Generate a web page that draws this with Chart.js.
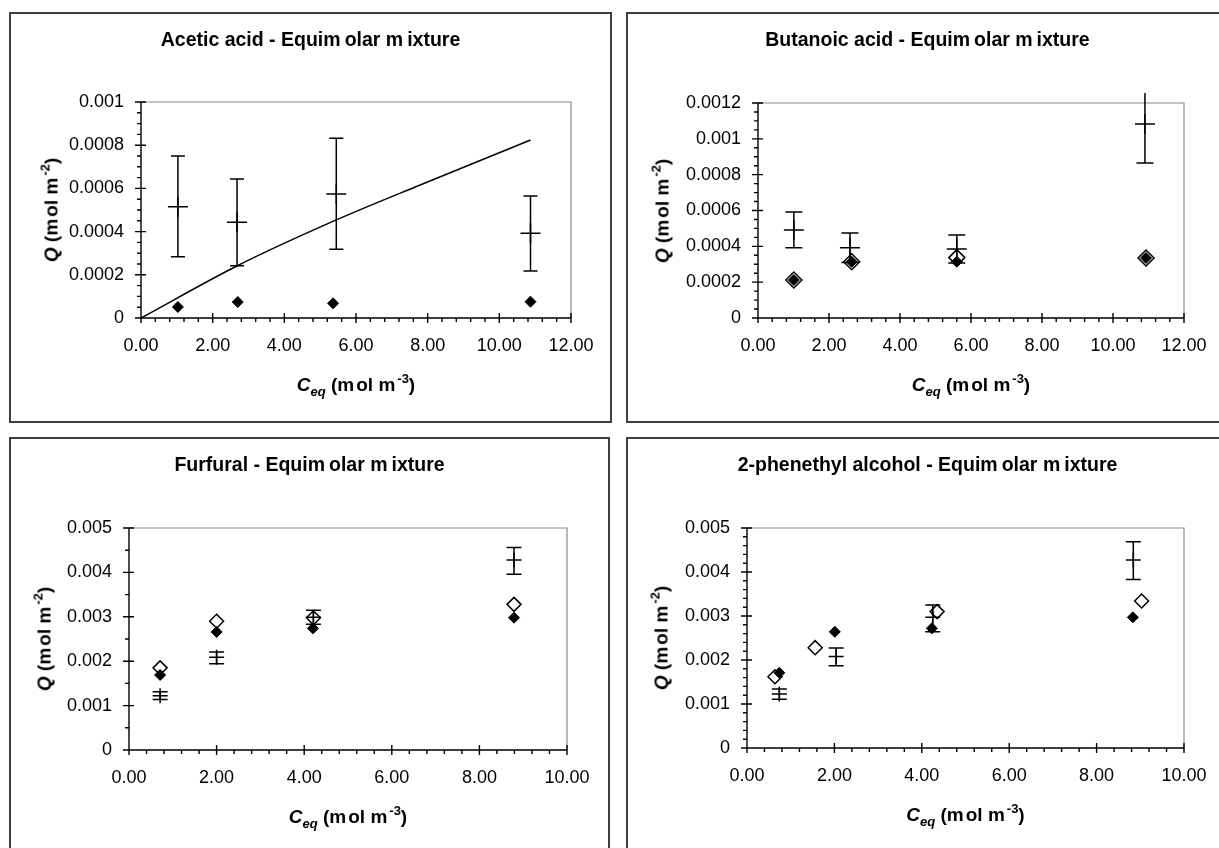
<!DOCTYPE html>
<html>
<head>
<meta charset="utf-8">
<script src="https://cdn.jsdelivr.net/npm/chart.js@4.4.1/dist/chart.umd.min.js"></script>
<style>
  html, body { margin: 0; padding: 0; background: #fff; }
  body { width: 1219px; height: 848px; overflow: hidden; position: relative;
         font-family: Arial, "Liberation Sans", sans-serif; color: #000; }
  .box { position: absolute; border: 2px solid #404040; box-sizing: border-box; }
  canvas { position: absolute; }
  .ttl { position: absolute; font-weight: bold; font-size: 19.5px; line-height: 1;
         white-space: nowrap; transform: translate(-50%, -50%); }
  .ttl .mg { margin-right: 4px; }
  .axt { position: absolute; font-weight: bold; font-size: 19px; line-height: 1; white-space: nowrap; }
  .axt .mg { margin-right: 2px; }
  .axt sup, .axt sub { font-size: 13px; position: relative; vertical-align: baseline; }
  .axt sup { top: -0.6em; }
  .axt sub { top: 0.4em; }
</style>
</head>
<body>
<script>
// --- Acetic acid ---
const aceticTitle = "Acetic acid - Equimolar mixture";
const aceticFilledX = [1.03, 2.70, 5.36, 10.87];
const aceticFilledQ = [0.000051, 0.000074, 0.000068, 0.0000755];
const aceticMeanX = [1.03, 2.68, 5.45, 10.87];
const aceticMeanQ = [0.000515, 0.000443, 0.000574, 0.000392];
const aceticLowQ = [0.000284, 0.000242, 0.000318, 0.000218];
const aceticHighQ = [0.00075, 0.000643, 0.000832, 0.000565];
const aceticFitX = [0, 2.69, 5.45, 7.79, 10.87];
const aceticFitQ = [0, 0.000242, 0.000454, 0.000616, 0.000824];

// --- Butanoic acid ---
const butanoicTitle = "Butanoic acid - Equimolar mixture";
const butanoicFilledX = [1.01, 2.64, 5.60, 10.93];
const butanoicFilledQ = [0.000212, 0.000314, 0.000314, 0.000335];
const butanoicOpenX = [1.01, 2.64, 5.60, 10.93];
const butanoicOpenQ = [0.000212, 0.000314, 0.000337, 0.000335];
const butanoicMeanX = [1.01, 2.59, 5.60, 10.90];
const butanoicMeanQ = [0.000491, 0.000392, 0.000385, 0.001083];
const butanoicLowQ = [0.000392, 0.00031, 0.000307, 0.000865];
const butanoicHighQ = [0.000592, 0.000474, 0.000463, 0.0013];

// --- Furfural ---
const furfuralTitle = "Furfural - Equimolar mixture";
const furfuralFilledX = [0.71, 2.00, 4.20, 8.79];
const furfuralFilledQ = [0.00169, 0.00266, 0.00274, 0.00298];
const furfuralOpenX = [0.71, 2.00, 4.21, 8.79];
const furfuralOpenQ = [0.00185, 0.0029, 0.00298, 0.00328];
const furfuralMeanX = [0.71, 2.00, 4.21, 8.79];
const furfuralMeanQ = [0.00122, 0.00209, 0.00299, 0.00428];
const furfuralLowQ = [0.00114, 0.00194, 0.00283, 0.00396];
const furfuralHighQ = [0.00131, 0.00221, 0.00315, 0.00456];

// --- 2-phenethyl alcohol ---
const phenethylTitle = "2-phenethyl alcohol - Equimolar mixture";
const phenethylFilledX = [0.74, 2.01, 4.23, 8.83];
const phenethylFilledQ = [0.00171, 0.00264, 0.00272, 0.00297];
const phenethylOpenX = [0.64, 1.56, 4.35, 9.03];
const phenethylOpenQ = [0.00162, 0.00228, 0.0031, 0.00334];
const phenethylMeanX = [0.74, 2.04, 4.25, 8.84];
const phenethylMeanQ = [0.00123, 0.00208, 0.00297, 0.00427];
const phenethylLowQ = [0.00111, 0.00187, 0.00264, 0.00383];
const phenethylHighQ = [0.00134, 0.00227, 0.00325, 0.00469];

// axis ranges: [min, max, major step, minor step]
const xAxis12 = [0, 12, 2, 0.4];
const xAxis10 = [0, 10, 2, 0.4];
const yAxisAcetic = [0, 0.001, 0.0002, 0.00005];
const yAxisButanoic = [0, 0.0012, 0.0002, 0.00005];
const yAxisFurfural = [0, 0.005, 0.001, 0.0005];
const yAxisPhenethyl = [0, 0.005, 0.001, 0.0002];

const yTitleHtml = '<i>Q</i> (mol m<sup>-2</sup>)';
const xTitleHtml = '<i>C</i><sub><i>eq</i></sub> (mol m<sup>-3</sup>)';

const FONT = 'Arial, "Liberation Sans", sans-serif';
const pts = (xs, ys) => xs.map((x, i) => ({ x, y: ys[i] }));

// Excel-style frame, crossing major ticks and outside minor ticks, error bars
const excelAxes = {
  id: "excelAxes",
  beforeDatasetsDraw(chart, args, o) {
    const { ctx, chartArea: a, scales: { x, y } } = chart;
    ctx.save();
    ctx.strokeStyle = "#8c8c8c";
    ctx.lineWidth = 1.2;
    ctx.beginPath();
    ctx.moveTo(a.left, a.top);
    ctx.lineTo(a.right, a.top);
    ctx.lineTo(a.right, a.bottom);
    ctx.stroke();

    ctx.strokeStyle = "#000";
    ctx.lineWidth = 1.4;
    ctx.beginPath();
    ctx.moveTo(a.left, a.top);
    ctx.lineTo(a.left, a.bottom);
    ctx.lineTo(a.right, a.bottom);
    const nx = Math.round((x.max - x.min) / o.x[3]);
    const kx = Math.round(o.x[2] / o.x[3]);
    for (let i = 0; i <= nx; i++) {
      const px = x.getPixelForValue(x.min + i * o.x[3]);
      const major = i % kx === 0;
      ctx.moveTo(px, a.bottom - (major ? 5 : 0));
      ctx.lineTo(px, a.bottom + (major ? 5 : 4));
    }
    const ny = Math.round((y.max - y.min) / o.y[3]);
    const ky = Math.round(o.y[2] / o.y[3]);
    for (let i = 0; i <= ny; i++) {
      const py = y.getPixelForValue(y.min + i * o.y[3]);
      const major = i % ky === 0;
      ctx.moveTo(a.left - (major ? 6 : 4), py);
      ctx.lineTo(a.left + (major ? 5 : 0), py);
    }
    ctx.stroke();
    ctx.restore();
  },
  afterDatasetDraw(chart, args) {
    const ds = chart.data.datasets[args.index];
    if (!ds.errLow) return;
    const { ctx, chartArea: a, scales: { x, y } } = chart;
    ctx.save();
    ctx.beginPath();
    ctx.rect(a.left - 20, a.top - 10, a.right - a.left + 40, a.bottom - a.top + 20);
    ctx.clip();
    ctx.strokeStyle = "#000";
    ctx.lineWidth = 1.5;
    ctx.beginPath();
    ds.data.forEach((p, i) => {
      const px = x.getPixelForValue(p.x);
      const lo = y.getPixelForValue(ds.errLow[i]);
      const hi = y.getPixelForValue(ds.errHigh[i]);
      const w = ds.capHalf;
      ctx.moveTo(px, lo); ctx.lineTo(px, hi);
      ctx.moveTo(px - w, lo); ctx.lineTo(px + w, lo);
      ctx.moveTo(px - w, hi); ctx.lineTo(px + w, hi);
    });
    ctx.stroke();
    ctx.restore();
  }
};

function filled(xs, ys) {
  return { data: pts(xs, ys), pointStyle: "rectRot", pointRadius: 5.5, backgroundColor: "#000",
           borderColor: "#000", borderWidth: 1, order: 0 };
}
function open(xs, ys, r) {
  return { data: pts(xs, ys), pointStyle: "rectRot", pointRadius: r, backgroundColor: "#fff",
           borderColor: "#000", borderWidth: 1.5, order: 2 };
}
function means(xs, ys, lo, hi, r, cap) {
  return { data: pts(xs, ys), pointStyle: "cross", pointRadius: r, borderColor: "#000",
           borderWidth: 1.5, errLow: lo, errHigh: hi, capHalf: cap, order: 1 };
}

const panels = [
  { title: aceticTitle, box: [9, 12, 603, 411], plot: [141, 102, 571, 318], titleAt: [310.5, 39.5],
    yTitleX: 51, x: xAxis12, y: yAxisAcetic,
    datasets: [
      filled(aceticFilledX, aceticFilledQ),
      means(aceticMeanX, aceticMeanQ, aceticLowQ, aceticHighQ, 10, 7),
      { data: pts(aceticFitX, aceticFitQ), showLine: true, pointRadius: 0, borderColor: "#000",
        borderWidth: 1.5, cubicInterpolationMode: "monotone", order: 3 }
    ] },
  { title: butanoicTitle, box: [626, 12, 603, 411], plot: [758, 103, 1184, 318], titleAt: [927.5, 39.5],
    yTitleX: 662, x: xAxis12, y: yAxisButanoic,
    datasets: [
      filled(butanoicFilledX, butanoicFilledQ),
      means(butanoicMeanX, butanoicMeanQ, butanoicLowQ, butanoicHighQ, 10, 8.5),
      open(butanoicOpenX, butanoicOpenQ, 8)
    ] },
  { title: furfuralTitle, box: [9, 437, 601, 420], plot: [129, 528, 567, 750], titleAt: [309.5, 465],
    yTitleX: 43.5, x: xAxis10, y: yAxisFurfural,
    datasets: [
      filled(furfuralFilledX, furfuralFilledQ),
      means(furfuralMeanX, furfuralMeanQ, furfuralLowQ, furfuralHighQ, 7.5, 7.5),
      open(furfuralOpenX, furfuralOpenQ, 7)
    ] },
  { title: phenethylTitle, box: [626, 437, 603, 420], plot: [747, 528, 1184, 748], titleAt: [927.5, 465],
    yTitleX: 661, x: xAxis10, y: yAxisPhenethyl,
    datasets: [
      filled(phenethylFilledX, phenethylFilledQ),
      means(phenethylMeanX, phenethylMeanQ, phenethylLowQ, phenethylHighQ, 7.5, 7.5),
      open(phenethylOpenX, phenethylOpenQ, 7)
    ] }
];

// the original renders a small gap after each "m"
const spaced = html => html.replace(/m/g, '<span class="mg">m</span>');

function addText(cls, html, left, top, extra) {
  const d = document.createElement("div");
  d.className = cls;
  d.innerHTML = spaced(html);
  d.style.left = left + "px";
  d.style.top = top + "px";
  if (extra) d.style.transform = extra;
  document.body.appendChild(d);
}

panels.forEach(p => {
  const [bx, by, bw, bh] = p.box;
  const [L, T, R, B] = p.plot;

  const box = document.createElement("div");
  box.className = "box";
  Object.assign(box.style, { left: bx + "px", top: by + "px", width: bw + "px", height: bh + "px" });
  document.body.appendChild(box);

  const cv = document.createElement("canvas");
  cv.width = bw;
  cv.height = bh;
  cv.style.left = bx + "px";
  cv.style.top = by + "px";
  document.body.appendChild(cv);

  addText("ttl", p.title, p.titleAt[0], p.titleAt[1]);
  addText("axt", xTitleHtml, (L + R) / 2, B + 65.5, "translate(-50%, -50%)");
  addText("axt", yTitleHtml, p.yTitleX, (T + B) / 2, "translate(-50%, -50%) rotate(-90deg)");

  new Chart(cv, {
    type: "scatter",
    data: { datasets: p.datasets },
    options: {
      responsive: false,
      animation: false,
      events: [],
      layout: { padding: { left: 0, top: T - by, right: bx + bw - R, bottom: 0 } },
      plugins: {
        legend: { display: false },
        tooltip: { enabled: false },
        excelAxes: { x: p.x, y: p.y }
      },
      scales: {
        x: {
          type: "linear", min: p.x[0], max: p.x[1],
          afterFit: s => { s.height = by + bh - B; },
          grid: { display: false, drawTicks: false },
          border: { display: false },
          ticks: { stepSize: p.x[2], padding: 17, autoSkip: false, maxRotation: 0, color: "#000",
                   font: { family: FONT, size: 18 }, callback: v => v.toFixed(2) }
        },
        y: {
          type: "linear", min: p.y[0], max: p.y[1],
          afterFit: s => { s.width = L - bx; },
          grid: { display: false, drawTicks: false },
          border: { display: false },
          ticks: { stepSize: p.y[2], padding: 17, autoSkip: false, color: "#000",
                   font: { family: FONT, size: 18 },
                   callback: v => (Math.abs(v) < 1e-12 ? "0" : String(+v.toPrecision(6))) }
        }
      }
    },
    plugins: [excelAxes]
  });
});
</script>
</body>
</html>
